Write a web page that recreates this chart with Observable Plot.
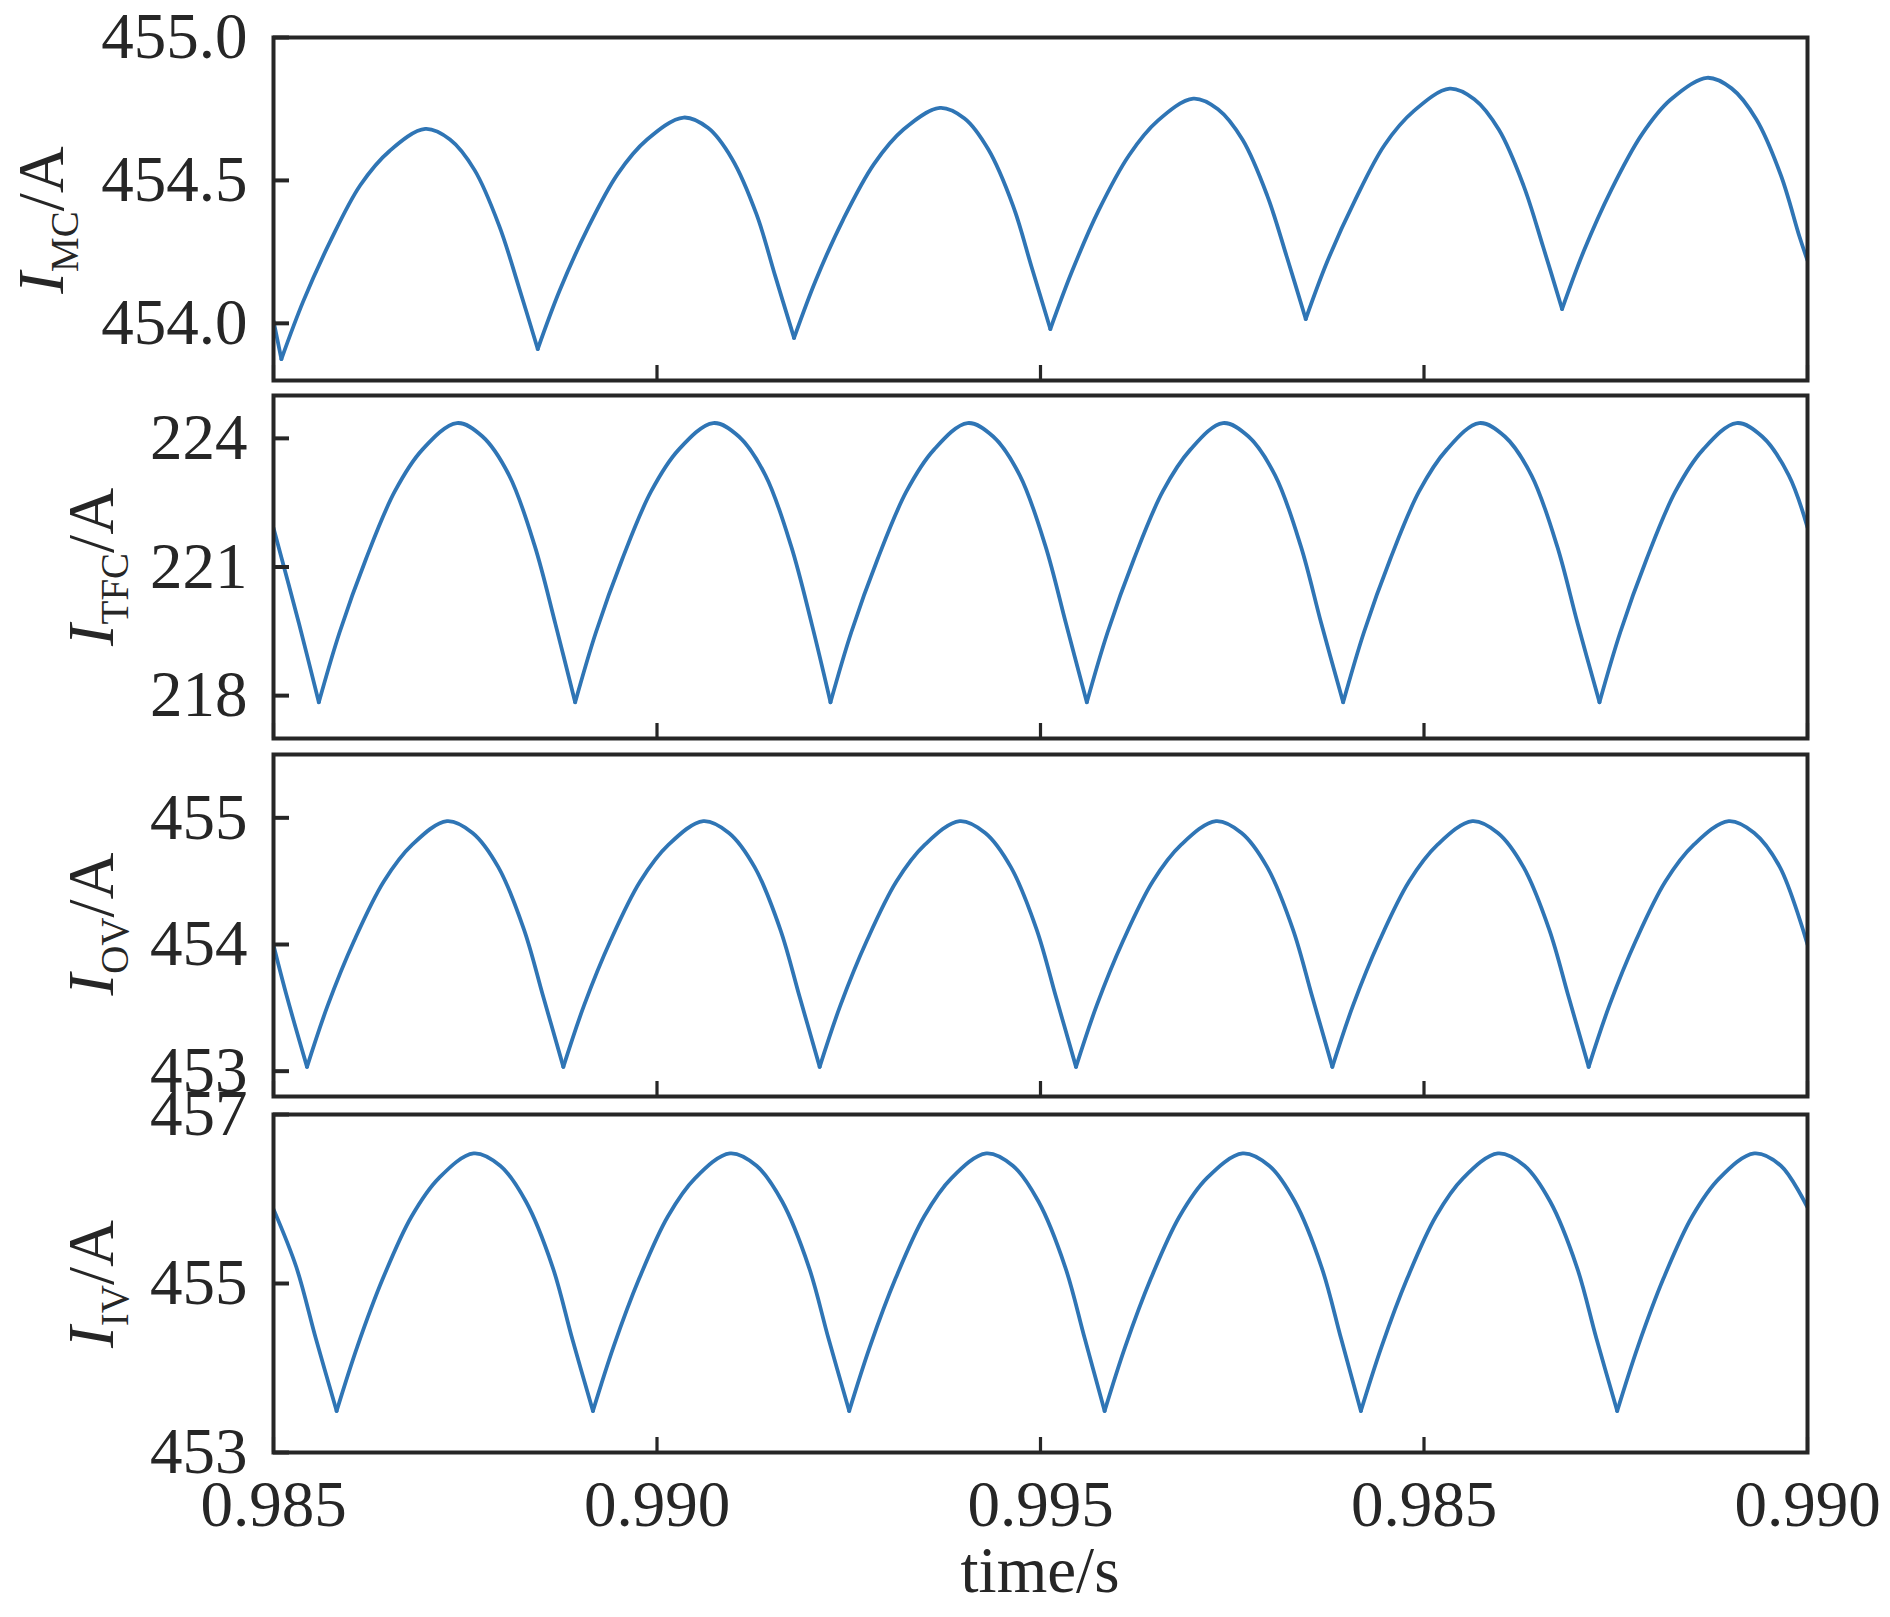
<!DOCTYPE html>
<html>
<head>
<meta charset="utf-8">
<script src="https://cdn.jsdelivr.net/npm/d3@7"></script>
<script src="https://cdn.jsdelivr.net/npm/@observablehq/plot@0.6"></script>
<style>
html, body { margin: 0; padding: 0; background: #fff; }
#chart { position: relative; width: 1890px; height: 1617px; overflow: hidden; }
#chart svg { position: absolute; left: 0; overflow: visible; }
</style>
</head>
<body>
<div id="chart"></div>
<script>
// ---- shared x axis ----
const xTicks = [0.985, 0.990, 0.995, 1.000, 1.005];
const xTickLabels = ["0.985", "0.990", "0.995", "0.985", "0.990"];
const xTitle = "time/s";

// ---- y axis names (subscripts) ----
const yNames = ["MC", "TFC", "OV", "IV"];

// ---- y ticks per panel ----
const yTicks1 = [454.0, 454.5, 455.0];
const yTickLabels1 = ["454.0", "454.5", "455.0"];
const yTicks2 = [218, 221, 224];
const yTickLabels2 = ["218", "221", "224"];
const yTicks3 = [453, 454, 455];
const yTickLabels3 = ["453", "454", "455"];
const yTicks4 = [453, 455, 457];
const yTickLabels4 = ["453", "455", "457"];

// ---- I_MC ----
const t1 = [0.985000, 0.985103, 0.985386, 0.985746, 0.986131, 0.986517, 0.986979, 0.987301, 0.987622, 0.987943, 0.988200, 0.988445,
  0.988728, 0.989087, 0.989486, 0.989871, 0.990347, 0.990668, 0.990977, 0.991298, 0.991542, 0.991787,
  0.992069, 0.992429, 0.992828, 0.993213, 0.993689, 0.994010, 0.994319, 0.994640, 0.994884, 0.995128,
  0.995411, 0.995758, 0.996157, 0.996530, 0.996992, 0.997314, 0.997635, 0.997956, 0.998213, 0.998458,
  0.998740, 0.999100, 0.999486, 0.999872, 1.000334, 1.000656, 1.000977, 1.001298, 1.001555, 1.001800,
  1.002082, 1.002442, 1.002841, 1.003213, 1.003689, 1.004010, 1.004332, 1.004653, 1.004897, 1.005000];
const v1 = [454.009, 453.875, 454.076, 454.290, 454.483, 454.604, 454.680, 454.643, 454.536, 454.341, 454.126, 453.910,
  454.113, 454.327, 454.522, 454.643, 454.720, 454.683, 454.576, 454.381, 454.165, 453.949,
  454.150, 454.364, 454.557, 454.678, 454.754, 454.717, 454.609, 454.413, 454.197, 453.980,
  454.182, 454.395, 454.589, 454.709, 454.786, 454.749, 454.642, 454.447, 454.231, 454.015,
  454.217, 454.430, 454.624, 454.744, 454.821, 454.784, 454.677, 454.482, 454.266, 454.050,
  454.252, 454.467, 454.661, 454.782, 454.859, 454.822, 454.714, 454.518, 454.302, 454.220];

// ---- I_TFC ----
const t2 = [0.985000, 0.985334, 0.985591,
  0.985861, 0.986208, 0.986581, 0.986941, 0.987391, 0.987725, 0.988072, 0.988406, 0.988676, 0.988933,
  0.989203, 0.989550, 0.989923, 0.990283, 0.990733, 0.991067, 0.991414, 0.991748, 0.992018, 0.992262,
  0.992532, 0.992879, 0.993252, 0.993612, 0.994049, 0.994383, 0.994730, 0.995064, 0.995334, 0.995604,
  0.995874, 0.996221, 0.996594, 0.996954, 0.997378, 0.997712, 0.998059, 0.998393, 0.998663, 0.998946,
  0.999216, 0.999563, 0.999936, 1.000296, 1.000720, 1.001054, 1.001401, 1.001735, 1.002005, 1.002288,
  1.002558, 1.002905, 1.003278, 1.003638, 1.004075, 1.004409, 1.004756, 1.005000];
const v2 = [221.909, 219.668, 217.845,
  219.473, 221.199, 222.762, 223.738, 224.357, 224.044, 223.139, 221.492, 219.668, 217.845,
  219.473, 221.199, 222.762, 223.738, 224.357, 224.044, 223.139, 221.492, 219.668, 217.845,
  219.473, 221.199, 222.762, 223.738, 224.357, 224.044, 223.139, 221.492, 219.668, 217.845,
  219.473, 221.199, 222.762, 223.738, 224.357, 224.044, 223.139, 221.492, 219.668, 217.845,
  219.473, 221.199, 222.762, 223.738, 224.357, 224.044, 223.139, 221.492, 219.668, 217.845,
  219.473, 221.199, 222.762, 223.738, 224.357, 224.044, 223.139, 221.925];

// ---- I_OV ----
const t3 = [0.985000, 0.985180, 0.985437,
  0.985707, 0.986054, 0.986440, 0.986812, 0.987262, 0.987596, 0.987931, 0.988265, 0.988522, 0.988779,
  0.989049, 0.989396, 0.989782, 0.990154, 0.990604, 0.990938, 0.991273, 0.991607, 0.991864, 0.992121,
  0.992391, 0.992738, 0.993123, 0.993496, 0.993946, 0.994280, 0.994614, 0.994949, 0.995206, 0.995463,
  0.995733, 0.996080, 0.996465, 0.996838, 0.997288, 0.997622, 0.997956, 0.998291, 0.998548, 0.998805,
  0.999075, 0.999422, 0.999807, 1.000180, 1.000630, 1.000964, 1.001298, 1.001632, 1.001890, 1.002147,
  1.002417, 1.002764, 1.003149, 1.003522, 1.003972, 1.004306, 1.004640, 1.005000];
const v3 = [453.995, 453.577, 453.034,
  453.519, 454.033, 454.499, 454.790, 454.974, 454.881, 454.611, 454.120, 453.577, 453.034,
  453.519, 454.033, 454.499, 454.790, 454.974, 454.881, 454.611, 454.120, 453.577, 453.034,
  453.519, 454.033, 454.499, 454.790, 454.974, 454.881, 454.611, 454.120, 453.577, 453.034,
  453.519, 454.033, 454.499, 454.790, 454.974, 454.881, 454.611, 454.120, 453.577, 453.034,
  453.519, 454.033, 454.499, 454.790, 454.974, 454.881, 454.611, 454.120, 453.577, 453.034,
  453.519, 454.033, 454.499, 454.790, 454.974, 454.881, 454.611, 454.000];

// ---- I_IV ----
const t4 = [0.985000, 0.985296, 0.985553, 0.985823,
  0.986093, 0.986427, 0.986800, 0.987159, 0.987609, 0.987956, 0.988291, 0.988638, 0.988895, 0.989165,
  0.989434, 0.989769, 0.990141, 0.990501, 0.990951, 0.991298, 0.991632, 0.991979, 0.992237, 0.992506,
  0.992776, 0.993111, 0.993483, 0.993843, 0.994293, 0.994640, 0.994974, 0.995321, 0.995578, 0.995836,
  0.996105, 0.996440, 0.996812, 0.997172, 0.997635, 0.997982, 0.998316, 0.998663, 0.998920, 0.999177,
  0.999447, 0.999782, 1.000154, 1.000514, 1.000964, 1.001311, 1.001645, 1.001992, 1.002249, 1.002519,
  1.002789, 1.003123, 1.003496, 1.003856, 1.004306, 1.004653, 1.005000];
const v4 = [455.880, 455.198, 454.345, 453.491,
  454.253, 455.061, 455.793, 456.250, 456.540, 456.394, 455.970, 455.198, 454.345, 453.491,
  454.253, 455.061, 455.793, 456.250, 456.540, 456.394, 455.970, 455.198, 454.345, 453.491,
  454.253, 455.061, 455.793, 456.250, 456.540, 456.394, 455.970, 455.198, 454.345, 453.491,
  454.253, 455.061, 455.793, 456.250, 456.540, 456.394, 455.970, 455.198, 454.345, 453.491,
  454.253, 455.061, 455.793, 456.250, 456.540, 456.394, 455.970, 455.198, 454.345, 453.491,
  454.253, 455.061, 455.793, 456.250, 456.540, 456.394, 455.900];

// ---- build arch segments (split at cusps so they stay sharp) ----
function arches(ts, vs) {
  const rows = [];
  let seg = 0;
  for (let i = 0; i < ts.length; i++) {
    rows.push({t: ts[i], v: vs[i], seg});
    if (i > 0 && i < ts.length - 1 && vs[i] < vs[i - 1] && vs[i] < vs[i + 1]) {
      seg++;
      rows.push({t: ts[i], v: vs[i], seg});
    }
  }
  return rows;
}

const INK = "#262626";
const BLUE = "#2f75b5";
const FONT = "'Liberation Serif', 'Times New Roman', serif";

const panels = [
  {T: 37,   B: 380,  domain: [453.8, 455.0], t: t1, v: v1, yt: yTicks1, yl: yTickLabels1, tx: 63,  ty: 220},
  {T: 395,  B: 738,  domain: [217, 225],     t: t2, v: v2, yt: yTicks2, yl: yTickLabels2, tx: 113, ty: 567},
  {T: 754,  B: 1096, domain: [452.8, 455.5], t: t3, v: v3, yt: yTicks3, yl: yTickLabels3, tx: 113, ty: 924},
  {T: 1114, B: 1452, domain: [453, 457],     t: t4, v: v4, yt: yTicks4, yl: yTickLabels4, tx: 113, ty: 1284}
];

const chart = document.getElementById("chart");

panels.forEach((p, k) => {
  const last = k === panels.length - 1;
  const mt = 40;
  const mb = last ? 1617 - p.B : 40;
  const svgTop = p.T - mt;
  const marks = [
    Plot.line(arches(p.t, p.v), {x: "t", y: "v", z: "seg", stroke: BLUE, strokeWidth: 3.8,
      curve: "catmull-rom", strokeLinejoin: "round", strokeLinecap: "round", clip: true}),
    Plot.axisY(p.yt, {anchor: "left", tickSize: -16, fill: "none", stroke: INK, strokeWidth: 4, label: null}),
    Plot.axisY(p.yt, {anchor: "left", tickSize: 0, tickPadding: 26, fontSize: 65, fill: INK, label: null,
      tickFormat: d => p.yl[p.yt.indexOf(d)]}),
    Plot.axisX(xTicks, {anchor: "bottom", tickSize: -15, fill: "none", stroke: INK, strokeWidth: 3.2, label: null}),
    Plot.frame({stroke: INK, strokeWidth: 4})
  ];
  if (last) {
    marks.push(Plot.axisX(xTicks, {anchor: "bottom", tickSize: 0, tickPadding: 27, fontSize: 65, fill: INK, label: null,
      tickFormat: d => xTickLabels[xTicks.indexOf(d)]}));
  }
  const svg = Plot.plot({
    width: 1890,
    height: p.B - p.T + mt + mb,
    marginLeft: 273,
    marginRight: 83,
    marginTop: mt,
    marginBottom: mb,
    x: {domain: [0.985, 1.005], axis: null},
    y: {domain: p.domain, axis: null},
    style: {fontFamily: FONT, color: INK, background: "transparent", overflow: "visible"},
    marks
  });
  svg.style.top = svgTop + "px";
  chart.appendChild(svg);

  // y axis title with italic I and subscript
  const title = d3.select(svg).append("text")
    .attr("transform", `translate(${p.tx},${p.ty - svgTop}) rotate(-90)`)
    .attr("text-anchor", "middle")
    .attr("font-family", FONT)
    .attr("font-size", 65)
    .attr("fill", INK);
  title.append("tspan").attr("font-style", "italic").text("I");
  title.append("tspan").attr("font-size", 39).attr("dy", 15).text(yNames[k]);
  title.append("tspan").attr("dy", -15).text("/A");

  if (last) {
    d3.select(svg).append("text")
      .attr("x", 1040)
      .attr("y", 1592 - svgTop)
      .attr("text-anchor", "middle")
      .attr("font-family", FONT)
      .attr("font-size", 65)
      .attr("fill", INK)
      .text(xTitle);
  }
});
</script>
</body>
</html>
